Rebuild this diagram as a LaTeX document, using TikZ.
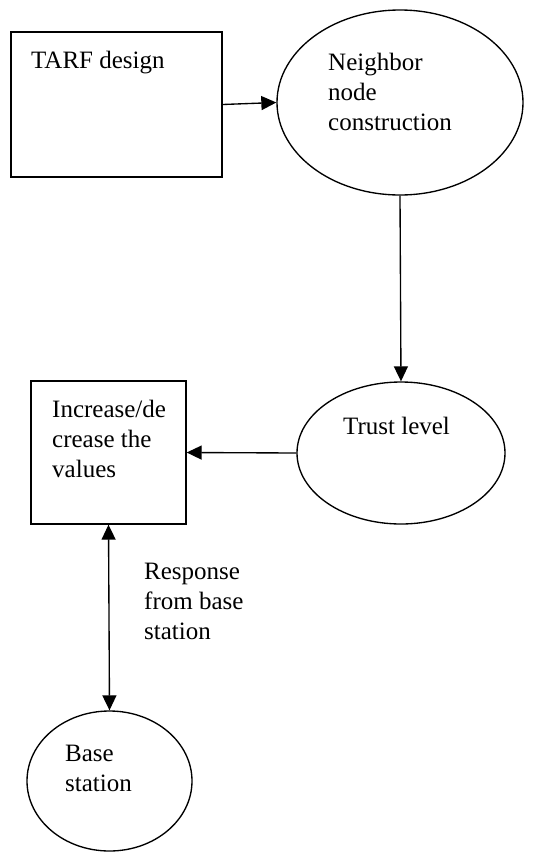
\documentclass[tikz,border=0pt]{standalone}
\usepackage{fontspec}
\setmainfont{Liberation Serif}
\usetikzlibrary{arrows.meta,shapes.geometric}
\begin{document}
\begin{tikzpicture}[x=1pt,y=-1pt,>={Triangle[length=15pt,width=14pt]}]
\tikzstyle{every node}+=[inner sep=0pt]
\tikzstyle{box}=[draw=black,line width=1.35pt,rectangle]
\tikzstyle{oval}=[draw=black,line width=1.35pt,ellipse]
\tikzstyle{lbl}=[font=\fontsize{25}{30}\selectfont,align=left,anchor=north west]
\tikzstyle{link}=[draw=black,line width=1.35pt]
\useasboundingbox (0,0) rectangle (535,852);
\node [box,minimum width=211pt,minimum height=145pt] (tarf) at (116.5,104.5) {};
\node [oval,minimum width=246pt,minimum height=185pt] (nbr) at (400,102.5) {};
\node [oval,minimum width=208pt,minimum height=142pt] (trust) at (401,453) {};
\node [box,minimum width=155pt,minimum height=143pt] (incr) at (108.5,452.5) {};
\node [oval,minimum width=165pt,minimum height=140pt] (base) at (109.5,781) {};
\node [lbl] (tarftxt) at (31,51) {TARF design};
\node [lbl] (nbrtxt) at (328,53) {Neighbor\\node\\construction};
\node [lbl] (trusttxt) at (343,417) {Trust level};
\node [lbl] (incrtxt) at (52,400) {Increase/de\\crease the\\values};
\node [lbl] (resptxt) at (144,563) {Response\\from base\\station};
\node [lbl] (basetxt) at (65,745) {Base\\station};
\draw [link,->] (tarf.east) -- (nbr.west);
\draw [link,->] (nbr.south) -- (trust.north);
\draw [link,->] (trust.west) -- (incr.east);
\draw [link,<->] (incr.south) -- (base.north);
\end{tikzpicture}
\end{document}
